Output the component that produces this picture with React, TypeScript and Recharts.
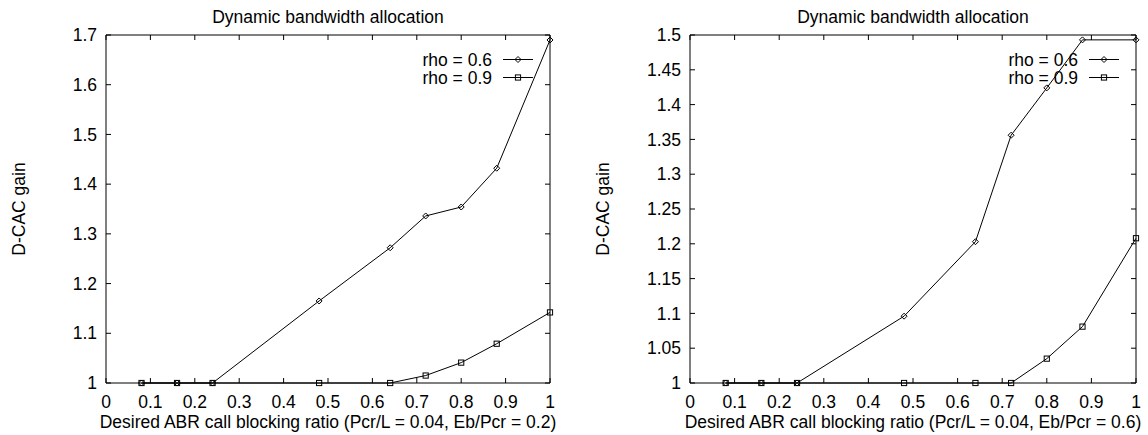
import { LineChart, Line, XAxis, YAxis, ReferenceArea, Legend } from 'recharts';

// Desired ABR call blocking ratio, same grid for both panels and both curves.
const X_VALUES = [0.08, 0.16, 0.24, 0.48, 0.64, 0.72, 0.8, 0.88, 1];

// Left panel: Eb/Pcr = 0.2
const LEFT_RHO_06 = [1, 1, 1, 1.165, 1.272, 1.336, 1.354, 1.432, 1.69];
const LEFT_RHO_09 = [1, 1, 1, 1, 1, 1.015, 1.041, 1.079, 1.142];

// Right panel: Eb/Pcr = 0.6
const RIGHT_RHO_06 = [1, 1, 1, 1.096, 1.203, 1.356, 1.424, 1.493, 1.493];
const RIGHT_RHO_09 = [1, 1, 1, 1, 1, 1, 1.035, 1.081, 1.208];

const X_TICKS = [0, 0.1, 0.2, 0.3, 0.4, 0.5, 0.6, 0.7, 0.8, 0.9, 1];
const LEFT_Y_TICKS = [1, 1.1, 1.2, 1.3, 1.4, 1.5, 1.6, 1.7];
const RIGHT_Y_TICKS = [1, 1.05, 1.1, 1.15, 1.2, 1.25, 1.3, 1.35, 1.4, 1.45, 1.5];

const SERIES_NAMES = ['rho = 0.6', 'rho = 0.9'];
const TITLE = 'Dynamic bandwidth allocation';
const Y_LABEL = 'D-CAC gain';
const LEFT_X_LABEL = 'Desired ABR call blocking ratio (Pcr/L = 0.04, Eb/Pcr = 0.2)';
const RIGHT_X_LABEL = 'Desired ABR call blocking ratio (Pcr/L = 0.04, Eb/Pcr = 0.6)';

const FONT = '"Liberation Sans", Arial, Helvetica, sans-serif';
const FONT_SIZE = 17.5;
const INK = '#000';
const PANEL_W = 574;
const PANEL_H = 435;
const TOP = 35;
const XAXIS_H = 52;
const PLOT_H = PANEL_H - TOP - XAXIS_H;
const TICK_LEN = 5;

const fmt = (v: number) => String(Math.round(v * 1000) / 1000);

// gnuplot-style tick: inward mark on both the bottom and the mirrored top border
function XTick(props: { x?: number; y?: number; payload?: { value: number } }) {
  const { x = 0, y = 0, payload } = props;
  return (
    <g>
      <line x1={x} y1={y} x2={x} y2={y - TICK_LEN} stroke={INK} />
      <line x1={x} y1={y - PLOT_H} x2={x} y2={y - PLOT_H + TICK_LEN} stroke={INK} />
      <text x={x} y={y + 25.3} textAnchor="middle" fontFamily={FONT} fontSize={FONT_SIZE} fill={INK}>
        {fmt(payload?.value ?? 0)}
      </text>
    </g>
  );
}

function YTick(props: { x?: number; y?: number; payload?: { value: number }; plotW: number }) {
  const { x = 0, y = 0, payload, plotW } = props;
  return (
    <g>
      <line x1={x} y1={y} x2={x + TICK_LEN} y2={y} stroke={INK} />
      <line x1={x + plotW} y1={y} x2={x + plotW - TICK_LEN} y2={y} stroke={INK} />
      <text x={x - 9} y={y + 6.2} textAnchor="end" fontFamily={FONT} fontSize={FONT_SIZE} fill={INK}>
        {fmt(payload?.value ?? 0)}
      </text>
    </g>
  );
}

function Marker({ cx, cy, shape }: { cx: number; cy: number; shape: 'diamond' | 'square' }) {
  if (shape === 'diamond') {
    const r = 3;
    return <path d={`M${cx},${cy - r}L${cx + r},${cy}L${cx},${cy + r}L${cx - r},${cy}Z`} fill="none" stroke={INK} />;
  }
  const h = 2.6;
  return <rect x={cx - h} y={cy - h} width={h * 2} height={h * 2} fill="none" stroke={INK} />;
}

const SHAPES: Array<'diamond' | 'square'> = ['diamond', 'square'];

function LegendBox() {
  return (
    <svg width={160} height={40}>
      {SERIES_NAMES.map((name, i) => {
        const cy = 11.5 + 18 * i;
        return (
          <g key={name}>
            <text x={102} y={cy + 6.2} textAnchor="end" fontFamily={FONT} fontSize={FONT_SIZE} fill={INK}>
              {name}
            </text>
            <line x1={113} y1={cy} x2={143} y2={cy} stroke={INK} />
            <Marker cx={128} cy={cy} shape={SHAPES[i]} />
          </g>
        );
      })}
    </svg>
  );
}

interface PanelProps {
  rho06: number[];
  rho09: number[];
  yTicks: number[];
  xLabel: string;
  yAxisW: number;
  rightMargin: number;
}

function Panel({ rho06, rho09, yTicks, xLabel, yAxisW, rightMargin }: PanelProps) {
  const data = X_VALUES.map((x, i) => ({ x, rho06: rho06[i], rho09: rho09[i] }));
  const plotW = PANEL_W - yAxisW - rightMargin;
  const yMin = yTicks[0];
  const yMax = yTicks[yTicks.length - 1];
  const cx = yAxisW + plotW / 2;

  return (
    <LineChart width={PANEL_W} height={PANEL_H} data={data} margin={{ top: TOP, right: rightMargin, bottom: 0, left: 0 }}>
      <XAxis
        dataKey="x"
        type="number"
        domain={[0, 1]}
        ticks={X_TICKS}
        interval={0}
        height={XAXIS_H}
        tickSize={0}
        tickMargin={0}
        axisLine={false}
        tickLine={false}
        tick={<XTick />}
        label={() => (
          <text x={cx} y={TOP + PLOT_H + 45} textAnchor="middle" fontFamily={FONT} fontSize={FONT_SIZE} fill={INK}>
            {xLabel}
          </text>
        )}
      />
      <YAxis
        type="number"
        domain={[yMin, yMax]}
        ticks={yTicks}
        interval={0}
        width={yAxisW}
        tickSize={0}
        tickMargin={0}
        axisLine={false}
        tickLine={false}
        tick={<YTick plotW={plotW} />}
        label={() => {
          const lx = yAxisW - 81;
          const ly = TOP + PLOT_H / 2;
          return (
            <text
              x={lx}
              y={ly}
              transform={`rotate(-90 ${lx} ${ly})`}
              textAnchor="middle"
              fontFamily={FONT}
              fontSize={FONT_SIZE}
              fill={INK}
            >
              {Y_LABEL}
            </text>
          );
        }}
      />
      <ReferenceArea
        x1={0}
        x2={1}
        y1={yMin}
        y2={yMax}
        fill="none"
        stroke={INK}
        strokeWidth={1}
        label={() => (
          <text x={cx} y={22.7} textAnchor="middle" fontFamily={FONT} fontSize={FONT_SIZE} fill={INK}>
            {TITLE}
          </text>
        )}
      />
      <Legend
        layout="vertical"
        align="center"
        verticalAlign="middle"
        wrapperStyle={{ position: 'absolute', left: yAxisW + plotW - 160, top: 48, width: 160, height: 40 }}
        content={() => <LegendBox />}
      />
      <Line
        dataKey="rho06"
        name={SERIES_NAMES[0]}
        type="linear"
        stroke={INK}
        strokeWidth={1}
        dot={(p: any) => <Marker key={`d${p.index}`} cx={p.cx} cy={p.cy} shape="diamond" />}
        activeDot={false}
        isAnimationActive={false}
      />
      <Line
        dataKey="rho09"
        name={SERIES_NAMES[1]}
        type="linear"
        stroke={INK}
        strokeWidth={1}
        dot={(p: any) => <Marker key={`s${p.index}`} cx={p.cx} cy={p.cy} shape="square" />}
        activeDot={false}
        isAnimationActive={false}
      />
    </LineChart>
  );
}

export default function App() {
  return (
    <div style={{ position: 'absolute', left: 0, top: 0, display: 'flex', background: '#fff', width: 1148, height: 435 }}>
      <Panel rho06={LEFT_RHO_06} rho09={LEFT_RHO_09} yTicks={LEFT_Y_TICKS} xLabel={LEFT_X_LABEL} yAxisW={106} rightMargin={24} />
      <Panel rho06={RIGHT_RHO_06} rho09={RIGHT_RHO_09} yTicks={RIGHT_Y_TICKS} xLabel={RIGHT_X_LABEL} yAxisW={116} rightMargin={12} />
    </div>
  );
}
